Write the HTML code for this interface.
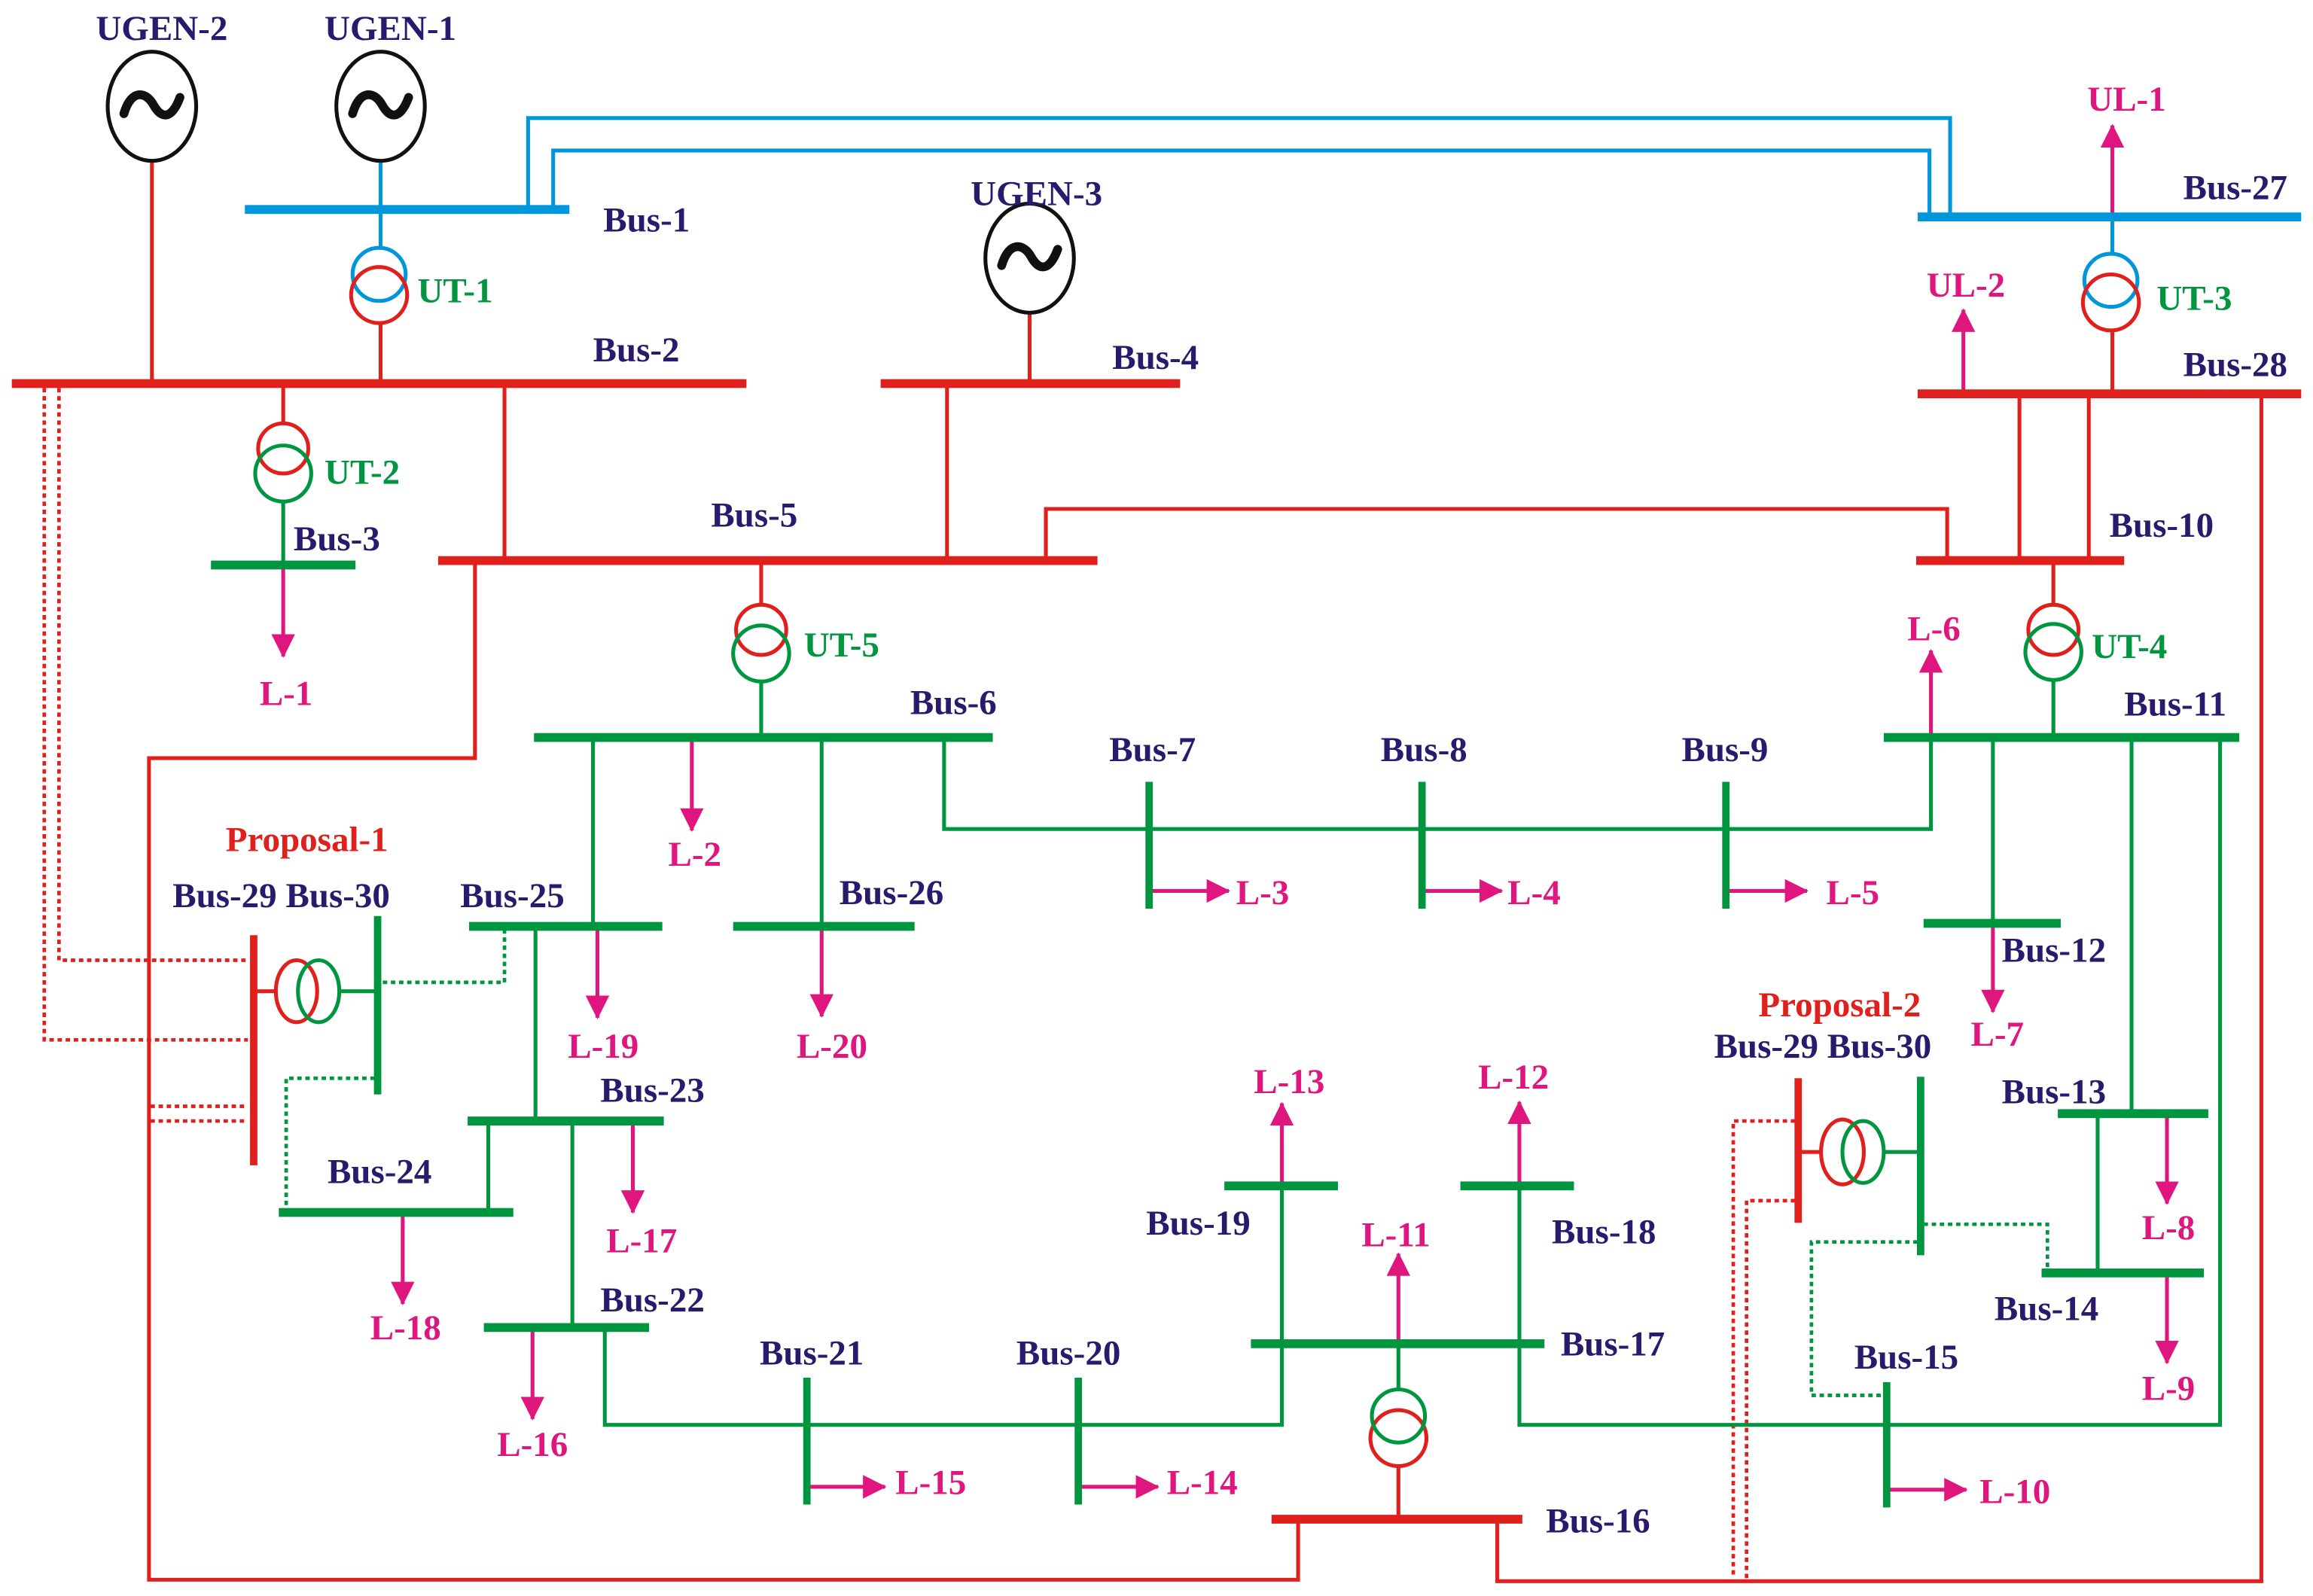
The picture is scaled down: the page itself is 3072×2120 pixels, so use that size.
<!DOCTYPE html>
<html><head><meta charset="utf-8"><style>
html,body{margin:0;padding:0;background:#fff;}
svg{display:block;}
text{font-family:"Liberation Serif",serif;font-weight:bold;font-size:24px;}
.n{fill:#2a1a6e}.g{fill:#009640}.m{fill:#e0167f}.r{fill:#e0201c}
</style></head><body>
<svg width="3072" height="2120" viewBox="0 0 1568 1082" xmlns="http://www.w3.org/2000/svg">
<defs>
<marker id="a" markerUnits="userSpaceOnUse" markerWidth="16" markerHeight="18" refX="15" refY="8" orient="auto"><path d="M0,0 L16,8 L0,16 Z" fill="#e0167f"/></marker>
</defs>
<g fill="none" stroke-width="2.6">
<g stroke="#0096dc">
<polyline points="358,142 358,80 1322,80 1322,147"/>
<polyline points="375,142 375,102 1308,102 1308,147"/>
<line x1="258" y1="110" x2="258" y2="168"/>
<line x1="1432" y1="147" x2="1432" y2="172"/>
<circle cx="257" cy="186" r="18"/>
<circle cx="1431" cy="190" r="18"/>
</g>
<g stroke="#e0201c">
<line x1="103" y1="110" x2="103" y2="260"/>
<line x1="258" y1="219" x2="258" y2="260"/>
<circle cx="257" cy="200" r="19"/>
<line x1="698" y1="213" x2="698" y2="260"/>
<line x1="192" y1="260" x2="192" y2="288"/>
<circle cx="192" cy="304" r="17"/>
<line x1="342" y1="260" x2="342" y2="380"/>
<line x1="642" y1="260" x2="642" y2="380"/>
<polyline points="709,380 709,345 1320,345 1320,380"/>
<line x1="1369" y1="267" x2="1369" y2="380"/>
<line x1="1416" y1="267" x2="1416" y2="380"/>
<line x1="1432" y1="224" x2="1432" y2="267"/>
<circle cx="1431" cy="205" r="19"/>
<polyline points="1533,267 1533,1072 1015,1072 1015,1030"/>
<polyline points="322,380 322,514 101,514 101,1071 880,1071 880,1030"/>
<line x1="516" y1="380" x2="516" y2="410"/>
<circle cx="516" cy="427" r="17"/>
<line x1="1392" y1="380" x2="1392" y2="410"/>
<circle cx="1392" cy="427" r="17"/>
<circle cx="948" cy="975" r="19"/>
<line x1="948" y1="994" x2="948" y2="1030"/>
<line x1="172" y1="672" x2="187" y2="672"/>
<ellipse cx="201" cy="672" rx="14" ry="21"/>
<line x1="1219" y1="781" x2="1235" y2="781"/>
<ellipse cx="1249" cy="781" rx="14.5" ry="22"/>
</g>
<g stroke="#e0201c" stroke-dasharray="3,2.5" stroke-width="2.4">
<polyline points="40,263 40,651 168,651"/>
<polyline points="30,263 30,705 168,705"/>
<line x1="102" y1="750" x2="168" y2="750"/>
<line x1="102" y1="760" x2="168" y2="760"/>
<polyline points="1217,760 1175,760 1175,1070"/>
<polyline points="1217,814 1184,814 1184,1070"/>
</g>
<g stroke="#009640">
<circle cx="192" cy="321" r="19"/>
<line x1="192" y1="340" x2="192" y2="383"/>
<circle cx="516" cy="443" r="19"/>
<line x1="516" y1="462" x2="516" y2="500"/>
<circle cx="1392" cy="442" r="19"/>
<line x1="1392" y1="461" x2="1392" y2="500"/>
<line x1="402" y1="500" x2="402" y2="628"/>
<line x1="557" y1="500" x2="557" y2="628"/>
<polyline points="640,500 640,562 1309,562 1309,500"/>
<line x1="1351" y1="500" x2="1351" y2="626"/>
<line x1="1445" y1="500" x2="1445" y2="755"/>
<polyline points="1505,500 1505,966 1030,966 1030,804"/>
<line x1="1422" y1="755" x2="1422" y2="863"/>
<circle cx="948" cy="960" r="18"/>
<line x1="948" y1="911" x2="948" y2="942"/>
<polyline points="869,804 869,966 410,966 410,900"/>
<line x1="388" y1="760" x2="388" y2="900"/>
<line x1="331" y1="760" x2="331" y2="822"/>
<line x1="363" y1="628" x2="363" y2="760"/>
<ellipse cx="216" cy="672" rx="14" ry="21"/>
<line x1="230" y1="672" x2="256" y2="672"/>
<ellipse cx="1263" cy="781" rx="14" ry="21"/>
<line x1="1277" y1="781" x2="1302" y2="781"/>
</g>
<g stroke="#009640" stroke-dasharray="3,2.5" stroke-width="2.4">
<polyline points="342,630 342,666 258,666"/>
<polyline points="254,731 194,731 194,820"/>
<polyline points="1304,830 1388,830 1388,861"/>
<polyline points="1300,842 1228,842 1228,946 1277,946"/>
</g>
<g stroke="#e0167f" marker-end="url(#a)">
<line x1="192" y1="385" x2="192" y2="445"/>
<line x1="469" y1="502" x2="469" y2="563"/>
<line x1="405" y1="630" x2="405" y2="690"/>
<line x1="557" y1="630" x2="557" y2="689"/>
<line x1="429" y1="762" x2="429" y2="822"/>
<line x1="273" y1="824" x2="273" y2="884"/>
<line x1="361" y1="902" x2="361" y2="962"/>
<line x1="549" y1="1008" x2="600" y2="1008"/>
<line x1="733" y1="1008" x2="785" y2="1008"/>
<line x1="781" y1="604" x2="833" y2="604"/>
<line x1="966" y1="604" x2="1018" y2="604"/>
<line x1="1172" y1="604" x2="1225" y2="604"/>
<line x1="1281" y1="1010" x2="1333" y2="1010"/>
<line x1="1432" y1="145" x2="1432" y2="85"/>
<line x1="1331" y1="265" x2="1331" y2="210"/>
<line x1="1309" y1="498" x2="1309" y2="441"/>
<line x1="1351" y1="628" x2="1351" y2="686"/>
<line x1="1469" y1="757" x2="1469" y2="816"/>
<line x1="1469" y1="865" x2="1469" y2="924"/>
<line x1="948" y1="909" x2="948" y2="850"/>
<line x1="869" y1="802" x2="869" y2="748"/>
<line x1="1030" y1="802" x2="1030" y2="747"/>
</g>
<g stroke="#111" stroke-width="2.6">
<ellipse cx="103" cy="72" rx="30" ry="37"/>
<ellipse cx="258" cy="72" rx="30" ry="37"/>
<ellipse cx="698" cy="175" rx="30" ry="37"/>
</g>
<g stroke="#111" stroke-width="6" stroke-linecap="round">
<path d="M84,77 C89,60 99,62 104,71 C109,80 116,82 122,66"/>
<path d="M239,77 C244,60 254,62 259,71 C264,80 271,82 277,66"/>
<path d="M679,180 C684,163 694,165 699,174 C704,183 711,185 717,169"/>
</g>
</g>
<g stroke-width="6" fill="none">
<g stroke="#0096dc"><line x1="166" y1="142" x2="386" y2="142"/><line x1="1300" y1="147" x2="1560" y2="147"/></g>
<g stroke="#e0201c">
<line x1="8" y1="260" x2="506" y2="260"/><line x1="597" y1="260" x2="800" y2="260"/>
<line x1="297" y1="380" x2="744" y2="380"/><line x1="1299" y1="380" x2="1440" y2="380"/>
<line x1="1300" y1="267" x2="1560" y2="267"/><line x1="862" y1="1030" x2="1032" y2="1030"/>
<line x1="172" y1="634" x2="172" y2="790" stroke-width="5"/><line x1="1219" y1="731" x2="1219" y2="829" stroke-width="5"/>
</g>
<g stroke="#009640">
<line x1="143" y1="383" x2="241" y2="383"/><line x1="362" y1="500" x2="673" y2="500"/>
<line x1="1277" y1="500" x2="1518" y2="500"/><line x1="318" y1="628" x2="449" y2="628"/>
<line x1="497" y1="628" x2="620" y2="628"/><line x1="317" y1="760" x2="450" y2="760"/>
<line x1="189" y1="822" x2="348" y2="822"/><line x1="328" y1="900" x2="440" y2="900"/>
<line x1="1304" y1="626" x2="1397" y2="626"/><line x1="1395" y1="755" x2="1497" y2="755"/>
<line x1="1384" y1="863" x2="1494" y2="863"/><line x1="848" y1="911" x2="1047" y2="911"/>
<line x1="830" y1="804" x2="907" y2="804"/><line x1="990" y1="804" x2="1067" y2="804"/>
<line x1="779" y1="530" x2="779" y2="616" stroke-width="5"/><line x1="964" y1="530" x2="964" y2="616" stroke-width="5"/>
<line x1="1170" y1="530" x2="1170" y2="616" stroke-width="5"/><line x1="547" y1="934" x2="547" y2="1020" stroke-width="5"/>
<line x1="731" y1="934" x2="731" y2="1020" stroke-width="5"/><line x1="1279" y1="937" x2="1279" y2="1022" stroke-width="5"/>
<line x1="256" y1="621" x2="256" y2="742" stroke-width="5"/><line x1="1302" y1="730" x2="1302" y2="851" stroke-width="5"/>
</g>
</g>
<g class="n">
<text x="65" y="27">UGEN-2</text><text x="220" y="27">UGEN-1</text><text x="658" y="139">UGEN-3</text>
<text x="409" y="157">Bus-1</text><text x="402" y="245">Bus-2</text><text x="754" y="250">Bus-4</text>
<text x="199" y="373">Bus-3</text><text x="482" y="357">Bus-5</text><text x="617" y="484">Bus-6</text>
<text x="1480" y="135">Bus-27</text><text x="1480" y="255">Bus-28</text><text x="1430" y="364">Bus-10</text>
<text x="1440" y="485">Bus-11</text><text x="752" y="516">Bus-7</text><text x="936" y="516">Bus-8</text><text x="1140" y="516">Bus-9</text>
<text x="117" y="615">Bus-29 Bus-30</text><text x="312" y="615">Bus-25</text><text x="569" y="613">Bus-26</text>
<text x="407" y="747">Bus-23</text><text x="222" y="802">Bus-24</text><text x="407" y="889">Bus-22</text>
<text x="515" y="925">Bus-21</text><text x="689" y="925">Bus-20</text><text x="777" y="837">Bus-19</text>
<text x="1052" y="843">Bus-18</text><text x="1058" y="919">Bus-17</text><text x="1048" y="1039">Bus-16</text>
<text x="1162" y="717">Bus-29 Bus-30</text><text x="1357" y="652">Bus-12</text><text x="1357" y="748">Bus-13</text>
<text x="1352" y="895">Bus-14</text><text x="1257" y="928">Bus-15</text>
</g>
<g class="g">
<text x="283" y="205">UT-1</text><text x="220" y="328">UT-2</text><text x="545" y="445">UT-5</text>
<text x="1462" y="210">UT-3</text><text x="1418" y="446">UT-4</text>
</g>
<g class="m">
<text x="176" y="478">L-1</text><text x="453" y="587">L-2</text><text x="838" y="613">L-3</text><text x="1022" y="613">L-4</text>
<text x="1238" y="613">L-5</text><text x="1293" y="434">L-6</text><text x="1336" y="709">L-7</text><text x="1452" y="840">L-8</text>
<text x="1452" y="949">L-9</text><text x="1342" y="1019">L-10</text><text x="923" y="845">L-11</text><text x="1002" y="738">L-12</text>
<text x="850" y="741">L-13</text><text x="791" y="1013">L-14</text><text x="607" y="1013">L-15</text><text x="337" y="987">L-16</text>
<text x="411" y="849">L-17</text><text x="251" y="908">L-18</text><text x="385" y="717">L-19</text><text x="540" y="717">L-20</text>
<text x="1415" y="75">UL-1</text><text x="1306" y="201">UL-2</text>
</g>
<g class="r"><text x="153" y="577">Proposal-1</text><text x="1192" y="689">Proposal-2</text></g>
</svg>
</body></html>
